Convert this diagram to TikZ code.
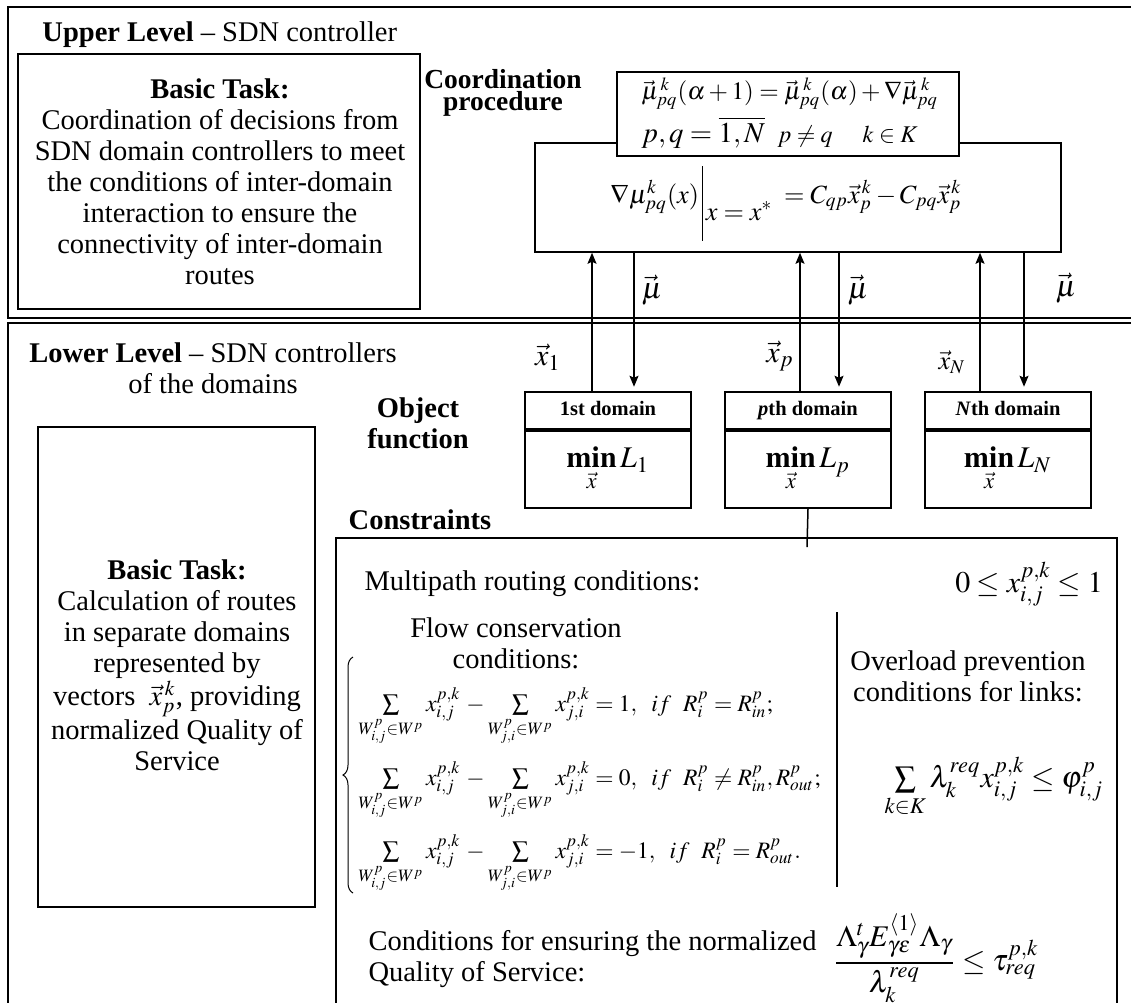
\documentclass[tikz,border=0pt]{standalone}
\usepackage{amsmath}
\usepackage{mathptmx}
\usepackage[no-math]{fontspec}
\setmainfont{Liberation Serif}
\usetikzlibrary{arrows.meta,fit,decorations.pathreplacing}

\begin{document}
\begin{tikzpicture}[x=0.4pt,y=-0.4pt,
  frame/.style={draw,line width=0.8pt},
  box/.style={draw,line width=0.6pt,inner sep=0pt},
  wbox/.style={box,fill=white},
  txt/.style={inner sep=0pt,font=\fontsize{11.4}{12.4}\selectfont},
  ctxt/.style={txt,align=center},
  ltxt/.style={txt,align=left},
  btxt/.style={ctxt,font=\fontsize{11.4}{12.4}\selectfont\bfseries},
  head/.style={inner sep=0pt,text height=5.8pt,text depth=1.6pt,font=\fontsize{8.2}{10}\selectfont\bfseries},
  mathlbl/.style={inner sep=0pt,font=\fontsize{12}{14}\selectfont},
  flow/.style={line width=0.6pt},
  arr/.style={flow,-{Stealth[length=4.4pt,width=3.6pt,inset=0.8pt]}}]

\fill[white] (0,0) rectangle (1131,1002);
\clip (0,0) rectangle (1131,1002);

% ---------- upper level ----------
\draw[frame] (8,7) rectangle (1160,318);
\node[txt,anchor=west] (uplab) at (42,35) {\textbf{Upper Level} – SDN controller};
\node[box,fit={(18,54) (420,309)}] (utask) {};
\node[ctxt] (utasktxt) at (220,182) {\textbf{Basic Task:}\\Coordination of decisions from\\SDN domain controllers to meet\\the conditions of inter-domain\\interaction to ensure the\\connectivity of inter-domain\\routes};
\node[btxt,font=\fontsize{11}{8.8}\selectfont\bfseries] (coordlab) at (503,93) {Coordination\\procedure};

\node[box,fit={(535,143) (1061,252)}] (coord) {};
\node[wbox,fit={(617,72) (959,156)}] (update) {};
\node[ltxt,anchor=west] (updtxt) at (641,113)
  {\fontsize{10}{12}\selectfont$\vec{\mu}^{\,k}_{pq}(\alpha+1)=\vec{\mu}^{\,k}_{pq}(\alpha)+\nabla\vec{\mu}^{\,k}_{pq}$\\[2pt]
   {\fontsize{11.5}{13}\selectfont$p,q=\overline{1,N}$}\hspace{5pt}{\fontsize{9.6}{12}\selectfont$p\neq q$\hspace{12pt}$k\in K$}};
\node[inner sep=0pt,font=\fontsize{10.5}{13}\selectfont] (grad) at (786,203)
  {$\nabla\mu^{k}_{pq}(x)\,\rule[-15pt]{0.4pt}{30pt}\,\raisebox{-7pt}{$x=x^{*}$}\;=C_{qp}\vec{x}^{\,k}_{p}-C_{pq}\vec{x}^{\,k}_{p}$};

% ---------- lower level ----------
\draw[frame] (8,323) rectangle (1160,1030);
\node[ctxt] (lowlab) at (213,368) {\textbf{Lower Level} – SDN controllers\\of the domains};
\node[box,fit={(38,427) (315,907)}] (ltask) {};
\node[ctxt] (ltasktxt) at (177,665) {\textbf{Basic Task:}\\Calculation of routes\\in separate domains\\represented by\\vectors\ \ $\vec{x}^{\,k}_{p}$, providing\\normalized Quality of\\Service};
\node[btxt] (objlab) at (418,423) {Object\\function};

% domain boxes
\node[box,fit={(525,392) (691,429)}] (d1h) {};
\node[box,fit={(525,431) (691,508)}] (d1b) {};
\node[box,fit={(725,392) (891,429)}] (dph) {};
\node[box,fit={(725,431) (891,508)}] (dpb) {};
\node[box,fit={(925,392) (1091,429)}] (dnh) {};
\node[box,fit={(925,431) (1091,508)}] (dnb) {};
\node[head] (t1) at (d1h) {1st domain};
\node[head] (tp) at (dph) {\textit{p}th domain};
\node[head] (tn) at (dnh) {\textit{N}th domain};
\node[inner sep=0pt,font=\fontsize{12}{14}\selectfont] (m1) at (d1b) {$\mathop{\mathbf{min}}\limits_{\vec{x}}L_{1}$};
\node[inner sep=0pt,font=\fontsize{12}{14}\selectfont] (mp) at (dpb) {$\mathop{\mathbf{min}}\limits_{\vec{x}}L_{p}$};
\node[inner sep=0pt,font=\fontsize{12}{14}\selectfont] (mn) at (dnb) {$\mathop{\mathbf{min}}\limits_{\vec{x}}L_{N}$};

% exchange between the levels
\coordinate (up1) at (592,0);  \coordinate (dn1) at (634,0);
\coordinate (upp) at (800,0);  \coordinate (dnp) at (839,0);
\coordinate (upn) at (980,0);  \coordinate (dnn) at (1024,0);
\draw[arr] (d1h.north -| up1) -- (coord.south -| up1);
\draw[arr] (dph.north -| upp) -- (coord.south -| upp);
\draw[arr] (dnh.north -| upn) -- (coord.south -| upn);
\draw[arr,shorten >=1.8pt] (coord.south -| dn1) -- (d1h.north -| dn1);
\draw[arr,shorten >=1.8pt] (coord.south -| dnp) -- (dph.north -| dnp);
\draw[arr,shorten >=1.8pt] (coord.south -| dnn) -- (dnh.north -| dnn);
\node[mathlbl] (mu1) at (652,290) {$\vec{\mu}$};
\node[mathlbl] (mup) at (858,290) {$\vec{\mu}$};
\node[mathlbl] (mun) at (1066,288) {$\vec{\mu}$};
\node[mathlbl] (x1) at (548,357) {$\vec{x}_{1}$};
\node[mathlbl] (xp) at (780,356) {$\vec{x}_{p}$};
\node[inner sep=0pt,font=\fontsize{10.5}{12}\selectfont] (xn) at (952,362) {$\vec{x}_{N}$};

% ---------- constraints ----------
\node[btxt] (conlab) at (420,520) {Constraints};
\node[box,fit={(336,538) (1117,1030)}] (cons) {};
\coordinate (cj) at (807,547);
\draw[flow] (dpb.south) -- (cj);

\node[txt,anchor=west] (multi) at (364,584) {Multipath routing conditions:};
\node[inner sep=0pt,font=\fontsize{12}{14}\selectfont] (bound) at (1029,584) {$0\le x^{p,k}_{i,j}\le 1$};

\node[ctxt] (flowlab) at (516,643) {Flow conservation\\conditions:};
\coordinate (brb) at (353,893);
\coordinate (brt) at (353,657);
\draw[line width=0.4pt,decorate,decoration={brace,amplitude=4pt}] (brb) -- (brt);
\begin{scope}[every node/.style={inner sep=0pt,anchor=base west,font=\fontsize{9.4}{10}\selectfont}]
\node (row1) at (358,711) {$\sum\limits_{W^{p}_{i,j}\in W^{p}} x^{p,k}_{i,j}\,-\sum\limits_{W^{p}_{j,i}\in W^{p}} x^{p,k}_{j,i}=1,\ \ if\ \ R^{p}_{i}=R^{p}_{in};$};
\node (row2) at (358,785) {$\sum\limits_{W^{p}_{i,j}\in W^{p}} x^{p,k}_{i,j}\,-\sum\limits_{W^{p}_{j,i}\in W^{p}} x^{p,k}_{j,i}=0,\ \ if\ \ R^{p}_{i}\neq R^{p}_{in},R^{p}_{out};$};
\node (row3) at (358,858) {$\sum\limits_{W^{p}_{i,j}\in W^{p}} x^{p,k}_{i,j}\,-\sum\limits_{W^{p}_{j,i}\in W^{p}} x^{p,k}_{j,i}=-1,\ \ if\ \ R^{p}_{i}=R^{p}_{out}.$};
\end{scope}

\coordinate (dvt) at (837,612);
\coordinate (dvb) at (837,887);
\draw[flow] (dvt) -- (dvb);

\node[ctxt] (overlab) at (968,676) {Overload prevention\\conditions for links:};
\node[inner sep=0pt,font=\fontsize{12}{14}\selectfont] (over) at (994,787)
  {$\sum\limits_{k\in K}\lambda^{req}_{k}x^{p,k}_{i,j}\le\varphi^{p}_{i,j}$};

\node[ltxt,anchor=west] (qoslab) at (368,959) {Conditions for ensuring the normalized\\Quality of Service:};
\node[inner sep=0pt,font=\fontsize{12}{14}\selectfont] (qos) at (936,958)
  {$\dfrac{\Lambda^{t}_{\gamma}E^{\langle 1\rangle}_{\gamma\varepsilon}\Lambda_{\gamma}}{\lambda^{req}_{k}}\le\tau^{p,k}_{req}$};
\end{tikzpicture}
\end{document}
